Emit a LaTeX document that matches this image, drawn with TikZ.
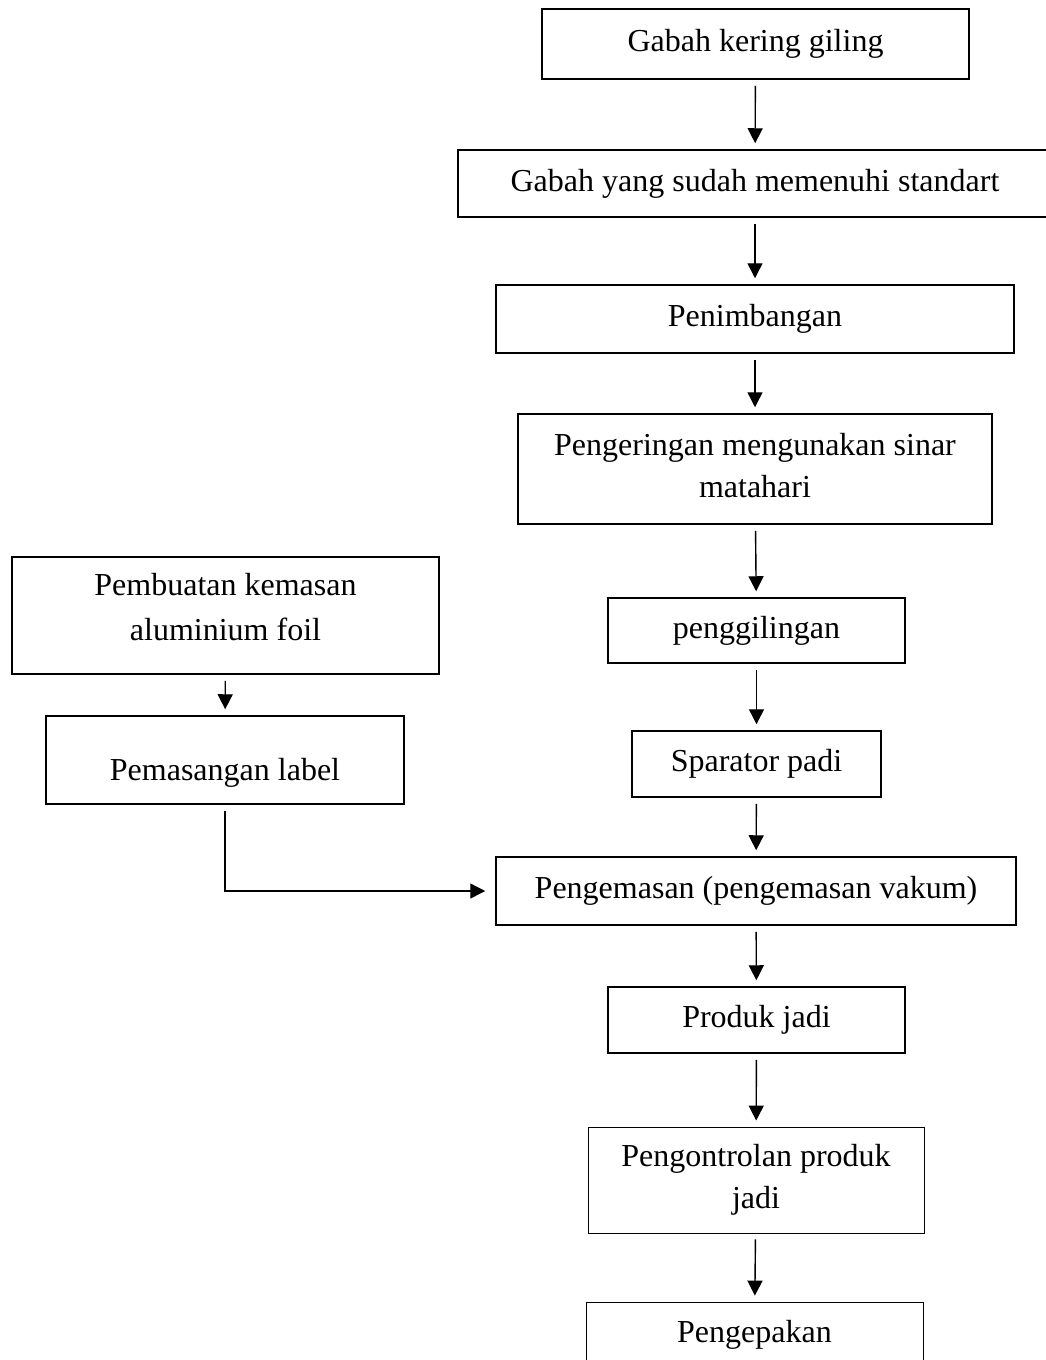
\documentclass[tikz,border=0pt]{standalone}
\usepackage{fontspec}
\setmainfont{Liberation Serif}
\usetikzlibrary{arrows.meta}
\begin{document}
\begin{tikzpicture}[x=1pt,y=-1pt,
  box/.style={draw, line width=1.5pt, inner sep=0pt, align=center,
    font=\fontsize{32}{42}\selectfont},
  thinbox/.style={box, line width=0.9pt},
  txt/.style={inner sep=0pt, align=center, font=\fontsize{32}{45}\selectfont},
  arr/.style={line width=1.4pt, -{Triangle[width=15pt,length=15pt]},
    shorten <=6pt, shorten >=6pt}]
\useasboundingbox (0,0) rectangle (1046,1360);
\begin{scope}
\clip (0,0) rectangle (1046,1360);
\node[box, minimum width=427pt, minimum height=70pt] (b1) at (755.5,44) {Gabah kering giling};
\node[box, minimum width=594pt, minimum height=67pt] (b2) at (755,183.5) {Gabah yang sudah memenuhi standart};
\node[box, minimum width=518pt, minimum height=68pt] (b3) at (755,319) {Penimbangan};
\node[box, minimum width=474pt, minimum height=110pt] (b4) at (755,469) {};
\node[txt, font=\fontsize{32}{42}\selectfont] (t4) at (755,466) {Pengeringan mengunakan sinar\\matahari};
\node[box, minimum width=297pt, minimum height=65pt] (b5) at (756.5,630.5) {penggilingan};
\node[box, minimum width=249pt, minimum height=66pt] (b6) at (756.5,764) {Sparator padi};
\node[box, minimum width=520pt, minimum height=68pt] (b7) at (756,891) {Pengemasan (pengemasan vakum)};
\node[box, minimum width=297pt, minimum height=66pt] (b8) at (756.5,1020) {Produk jadi};
\node[thinbox, minimum width=336pt, minimum height=106pt] (b9) at (756,1180) {Pengontrolan produk\\jadi};
\node[thinbox, minimum width=337pt, minimum height=66pt] (b10) at (754.5,1335) {Pengepakan};
\node[box, minimum width=427pt, minimum height=117pt] (b11) at (225.5,615.5) {};
\node[txt] (t11) at (225.5,607) {Pembuatan kemasan\\aluminium foil};
\node[box, minimum width=358pt, minimum height=88pt] (b12) at (225,760) {};
\node[txt] (t12) at (225,773) {Pemasangan label};
\draw[arr] (b1) -- (b2);
\draw[arr] (b2) -- (b3);
\draw[arr] (b3) -- (b4);
\draw[arr] (b4) -- (b5);
\draw[arr] (b5) -- (b6);
\draw[arr] (b6) -- (b7);
\draw[arr] (b7) -- (b8);
\draw[arr] (b8) -- (b9);
\draw[arr] (b9) -- (b10);
\draw[arr] (b11) -- (b12);
\draw[arr, shorten >=10pt] (b12.south) |- (b7.west);
\end{scope}
\end{tikzpicture}
\end{document}
